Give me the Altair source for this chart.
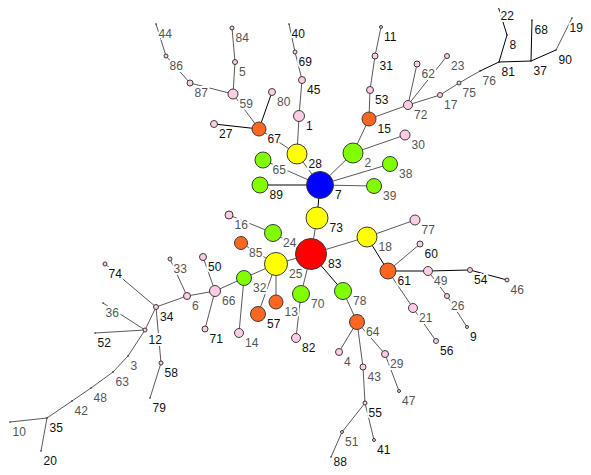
import altair as alt
import pandas as pd

# ---- node data (pixel coordinates of the original) ----
node_ids = [1, 2, 3, 4, 5, 6, 7, 8, 9, 10,
            11, 12, 13, 14, 15, 16, 17, 18, 19, 20,
            21, 22, 23, 24, 25, 26, 27, 28, 29, 30,
            31, 32, 33, 34, 35, 36, 37, 38, 39, 40,
            41, 42, 43, 44, 45, 46, 47, 48, 49, 50,
            51, 52, 53, 54, 55, 56, 57, 58, 59, 60,
            61, 62, 63, 64, 65, 66, 67, 68, 69, 70,
            71, 72, 73, 74, 75, 76, 77, 78, 79, 80,
            81, 82, 83, 84, 85, 86, 87, 88, 89, 90]
node_x = [299, 353, 128, 339, 235, 187, 320, 507, 467, 10,
          381, 145, 276, 239, 369, 229, 440, 367, 572, 41,
          413, 498, 447, 273, 276, 447, 214, 297, 385, 405,
          375, 244, 170, 156, 47, 103, 531, 390, 374, 289,
          374, 72, 363, 156, 302, 507, 399, 91, 428, 203,
          342, 95, 370, 470, 365, 436, 258, 161, 233, 420,
          388, 417, 113, 357, 263, 215, 259, 532, 295, 301,
          205, 408, 317, 105, 459, 480, 415, 343, 150, 272,
          499, 296, 311, 232, 241, 166, 190, 331, 260, 556]
node_y = [116, 153, 356, 352, 62, 296, 185, 35, 327, 422,
          27, 330, 302, 333, 119, 215, 95, 237, 18, 451,
          308, 6, 56, 233, 264, 296, 124, 154, 354, 135,
          56, 278, 259, 307, 418, 303, 61, 164, 186, 24,
          440, 401, 367, 24, 80, 280, 391, 388, 271, 257,
          432, 333, 90, 270, 403, 341, 314, 363, 94, 244,
          271, 64, 372, 322, 160, 291, 129, 20, 52, 294,
          329, 105, 218, 264, 83, 71, 220, 291, 398, 92,
          62, 338, 254, 28, 243, 56, 83, 457, 185, 50]
node_diam = [11, 20, 0, 7, 5, 7, 27, 0, 3, 0,
             3, 4, 14, 9, 14, 8, 5, 20, 0, 0,
             9, 0, 5, 17, 23, 5, 7, 20, 7, 10,
             6, 15, 4, 5, 0, 0, 0, 15, 15, 0,
             3, 0, 6, 0, 7, 4, 3, 0, 9, 7,
             3, 0, 7, 5, 4, 5, 15, 4, 10, 6,
             16, 6, 0, 15, 16, 11, 14, 0, 4, 17,
             6, 9, 22, 4, 4, 0, 10, 17, 0, 7,
             0, 9, 31, 4, 13, 4, 6, 0, 16, 0]
node_group = ["pink", "green", "point", "pink", "pink", "pink", "blue", "point", "pink", "point",
              "pink", "pink", "orange", "pink", "orange", "pink", "pink", "yellow", "point", "point",
              "pink", "point", "pink", "green", "yellow", "pink", "pink", "yellow", "pink", "pink",
              "pink", "green", "pink", "pink", "point", "point", "point", "green", "green", "point",
              "pink", "point", "pink", "point", "pink", "pink", "pink", "point", "pink", "pink",
              "pink", "point", "pink", "pink", "pink", "pink", "orange", "pink", "pink", "pink",
              "orange", "pink", "point", "orange", "green", "pink", "orange", "point", "pink", "green",
              "pink", "pink", "yellow", "pink", "pink", "point", "pink", "green", "point", "pink",
              "point", "pink", "red", "pink", "orange", "pink", "pink", "point", "green", "point"]
dark_labels = [7, 89, 28, 61, 27, 67, 22, 68, 8, 81, 37, 90, 19, 11, 31, 53, 15, 1, 45, 69, 40,
               74, 52, 12, 35, 20, 58, 79, 71, 57, 82, 55, 41, 88, 56, 9, 54, 60, 83, 73, 50, 34]

# ---- edges (tree links) ----
edge_from = [7, 7, 7, 7, 7, 7, 7,
             28, 1, 45, 69,
             28, 67, 67, 67, 59, 5, 59, 87, 86,
             2, 2, 15, 53, 31, 15, 72, 72, 72, 17, 75, 76, 81, 8, 81, 37, 37, 90,
             73, 83, 24, 83, 25, 25, 25, 25, 32, 32, 66, 66, 66, 6, 6, 34, 34, 58, 34,
             12, 12, 12, 3, 63, 48, 42, 35, 35,
             83, 70, 83, 78, 64, 64, 43, 55, 51, 55, 64, 29,
             83, 18, 18, 61, 61, 49, 54, 49, 26, 61, 21]
edge_to = [89, 65, 28, 2, 38, 39, 73,
           1, 45, 69, 40,
           67, 27, 80, 59, 5, 84, 87, 86, 44,
           15, 30, 53, 31, 11, 72, 62, 23, 17, 75, 76, 81, 8, 22, 37, 68, 90, 19,
           83, 24, 16, 25, 85, 13, 57, 32, 14, 66, 50, 71, 6, 33, 34, 74, 58, 79, 12,
           36, 52, 3, 63, 48, 42, 35, 10, 20,
           70, 82, 78, 64, 4, 43, 55, 51, 88, 41, 29, 47,
           18, 77, 61, 60, 49, 54, 46, 26, 9, 21, 56]
dark_edges = [(7, 89), (7, 73), (67, 27), (67, 80), (76, 81), (81, 8), (8, 22), (81, 37),
              (37, 68), (37, 90), (18, 61), (61, 49), (49, 54), (54, 46), (83, 78)]

# ---- drawing area: 1 data unit = 1 screen pixel, page margin 8px ----
W, H = 575, 459
X0, Y0 = 8, 8

# ---- build tables ----
nodes = pd.DataFrame({"id": node_ids, "x": node_x, "y": node_y,
                      "d": node_diam, "group": node_group})
nodes["size"] = nodes["d"].where(nodes["d"] > 0, 1.6) ** 2
nodes["label"] = nodes["id"].astype(str)
label_w = nodes["label"].str.len() * 6.7
nodes["lx"] = (nodes["x"] + nodes["d"].clip(lower=2) / 2 + 1.5).clip(upper=X0 + W - label_w)
nodes["ly"] = (nodes["y"] + 9.5).clip(upper=Y0 + H - 5.5)
nodes["tone"] = ["dark" if i in dark_labels else "gray" for i in node_ids]

pos = nodes.set_index("id")
edges = pd.DataFrame({"a": edge_from, "b": edge_to})
edges["x"] = edges["a"].map(pos["x"])
edges["y"] = edges["a"].map(pos["y"])
edges["x2"] = edges["b"].map(pos["x"])
edges["y2"] = edges["b"].map(pos["y"])
edges["tone"] = ["dark" if (a, b) in dark_edges else "gray"
                 for a, b in zip(edge_from, edge_to)]

xs = alt.Scale(domain=[X0, X0 + W], nice=False, zero=False)
ys = alt.Scale(domain=[Y0, Y0 + H], nice=False, zero=False, reverse=True)

edge_layer = alt.Chart(edges).mark_rule(strokeWidth=1).encode(
    x=alt.X("x:Q", scale=xs, axis=None),
    y=alt.Y("y:Q", scale=ys, axis=None),
    x2="x2:Q", y2="y2:Q",
    color=alt.Color("tone:N", scale=alt.Scale(domain=["dark", "gray"],
                                              range=["#000000", "#5a5a5a"]), legend=None),
)

halo = alt.Chart(nodes).mark_text(
    align="left", baseline="middle", font="Liberation Sans", fontSize=12,
    stroke="white", strokeWidth=4, fill="white",
).encode(
    x=alt.X("lx:Q", scale=xs, axis=None),
    y=alt.Y("ly:Q", scale=ys, axis=None),
    text="label:N",
)

big = nodes[nodes["group"] != "point"]
small = nodes[nodes["group"] == "point"]

node_layer = alt.Chart(big).mark_point(
    shape="circle", filled=True, opacity=1, stroke="#3a3a3a", strokeWidth=1,
).encode(
    x=alt.X("x:Q", scale=xs, axis=None),
    y=alt.Y("y:Q", scale=ys, axis=None),
    size=alt.Size("size:Q", scale=None, legend=None),
    fill=alt.Fill("group:N", scale=alt.Scale(
        domain=["pink", "orange", "yellow", "green", "blue", "red"],
        range=["#FFCCE5", "#FF6622", "#FFFF00", "#80FF00", "#0000FF", "#FF0000"]),
        legend=None),
)

dot_layer = alt.Chart(small).mark_point(
    shape="circle", filled=True, opacity=1, color="#222222",
).encode(
    x=alt.X("x:Q", scale=xs, axis=None),
    y=alt.Y("y:Q", scale=ys, axis=None),
    size=alt.Size("size:Q", scale=None, legend=None),
)

label_layer = alt.Chart(nodes).mark_text(
    align="left", baseline="middle", font="Liberation Sans", fontSize=12,
).encode(
    x=alt.X("lx:Q", scale=xs, axis=None),
    y=alt.Y("ly:Q", scale=ys, axis=None),
    text="label:N",
    color=alt.Color("tone:N", scale=alt.Scale(domain=["dark", "gray"],
                                              range=["#111111", "#555555"]), legend=None),
)

chart = alt.layer(edge_layer, halo, node_layer, dot_layer, label_layer).resolve_scale(
    color="independent"
).properties(
    width=W, height=H, padding=0,
    autosize=alt.AutoSizeParams(type="none"),
    background="white",
).configure_view(stroke=None)

chart.save("out.html", embed_options={"renderer": "svg", "actions": False})
